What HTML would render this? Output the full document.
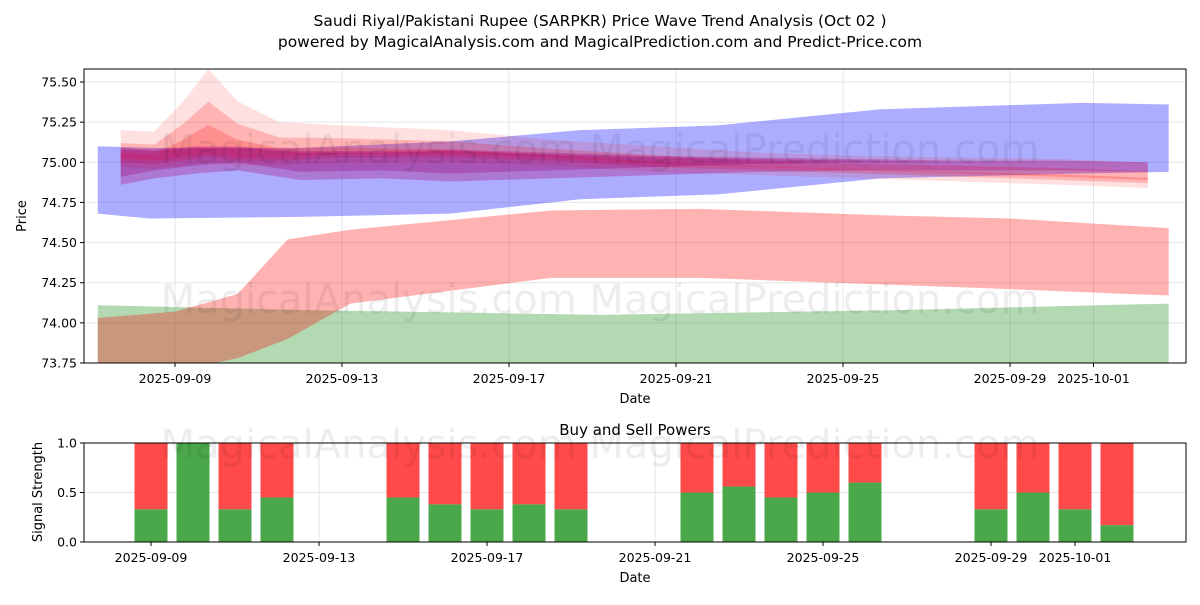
<!DOCTYPE html>
<html><head><meta charset="utf-8"><style>
body{margin:0;background:#fff;font-family:"Liberation Sans","DejaVu Sans",sans-serif}
svg text{font-family:"DejaVu Sans","Liberation Sans",sans-serif}
</style></head><body>
<svg id="c" width="1200" height="600" xmlns="http://www.w3.org/2000/svg">
<rect width="1200" height="600" fill="#fff"/>
<text x="600" y="26" font-size="15.5" text-anchor="middle">Saudi Riyal/Pakistani Rupee (SARPKR) Price Wave Trend Analysis (Oct 02 )</text>
<text x="600" y="47" font-size="15.5" text-anchor="middle">powered by MagicalAnalysis.com and MagicalPrediction.com and Predict-Price.com</text>
<g id="main"></g>
<g id="sub"></g>
</svg>
<script>
// ---- data (days measured from 2025-09-07) ----
const priceTicks=[73.75,74.00,74.25,74.50,74.75,75.00,75.25,75.50];
const dateTicks=["2025-09-09","2025-09-13","2025-09-17","2025-09-21","2025-09-25","2025-09-29","2025-10-01"];
const dateTickDays=[2,6,10,14,18,22,24];
const blueDays=[0.15,1.4,5,8.6,11.7,15,18.9,23.7,25.8];
const blueUpper=[75.10,75.09,75.09,75.13,75.20,75.23,75.33,75.37,75.36];
const blueLower=[74.68,74.65,74.66,74.68,74.77,74.80,74.90,74.93,74.94];
const redDays=[0.15,2,3.5,4.7,6.2,11,14.6,18.9,22,25.8];
const redUpper=[74.03,74.07,74.18,74.52,74.58,74.70,74.71,74.67,74.65,74.59];
const redLower=[73.60,73.70,73.78,73.90,74.12,74.28,74.28,74.24,74.21,74.17];
const greenDays=[0.15,5,12.2,19.4,25.8];
const greenUpper=[74.11,74.08,74.05,74.08,74.12];
const greenLower=[73.40,73.40,73.40,73.40,73.40];
const waveDays=[0.7,1.5,2.2,2.8,3.5,4.5,6,8.6,11,13.5,16,18.4,20.8,23.2,25.3];
const waveUpper=[75.20,75.19,75.38,75.58,75.38,75.25,75.23,75.20,75.14,75.10,75.06,75.04,75.03,75.02,75.00];
const waveLower=[74.97,74.96,74.98,75.00,74.98,74.98,75.00,75.00,74.98,74.94,74.92,74.90,74.88,74.86,74.84];
const purpDays=[0.7,1.5,2.5,3.5,5,7,8.6,11,13.5,16,18.4,20.8,23.2,25.3];
const purpUpper=[75.09,75.08,75.10,75.10,75.07,75.07,75.08,75.06,75.04,75.03,75.02,75.01,75.01,75.00];
const purpLower=[74.86,74.90,74.93,74.95,74.89,74.90,74.88,74.90,74.92,74.94,74.95,74.95,74.95,74.94];
const buyDays=[2,3,4,5,8,9,10,11,12,15,16,17,18,19,22,23,24,25];
const buyVals=[0.33,1.0,0.33,0.45,0.45,0.38,0.33,0.38,0.33,0.5,0.56,0.45,0.5,0.6,0.33,0.5,0.33,0.17];
const strengthTicks=[0.0,0.5,1.0];

const NS="http://www.w3.org/2000/svg";
function mk(t,a,p){const e=document.createElementNS(NS,t);for(const k in a)e.setAttribute(k,a[k]);p.appendChild(e);return e;}
const X0=84,X1=1186;
const xd=d=>91.5+d*41.75;
const yp=v=>363-(v-73.75)*160.57;
const ys=v=>542-v*99;
const xs=d=>151+(d-2)*42;
const M=document.getElementById('main'),S=document.getElementById('sub');

const cp=mk('clipPath',{id:'cm'},M);mk('rect',{x:X0,y:69,width:X1-X0,height:294},cp);
priceTicks.forEach(v=>{const g=mk('line',{x1:X0,x2:X1,y1:yp(v),y2:yp(v),stroke:'#e6e6e6'},M);

mk('line',{x1:X0-4,x2:X0,y1:yp(v),y2:yp(v),stroke:'#000'},M);
const t=mk('text',{x:X0-7,y:yp(v)+4.5,'font-size':12.5,'text-anchor':'end'},M);t.textContent=v.toFixed(2);
});
dateTicks.forEach((d,i)=>{const x=xd(dateTickDays[i]);mk('line',{x1:x,x2:x,y1:69,y2:363,stroke:'#e6e6e6'},M);
mk('line',{x1:x,x2:x,y1:363,y2:367,stroke:'#000'},M);
const t=mk('text',{x:x,y:383,'font-size':12.5,'text-anchor':'middle'},M);t.textContent=d;
});
const wm=(g,y,fs)=>{const t=mk('text',{x:600,y:y,'font-size':fs,'text-anchor':'middle',fill:'#000','fill-opacity':0.07},g);t.textContent='MagicalAnalysis.com    MagicalPrediction.com';
};
const band=(days,up,lo,fill,op,name)=>{let pts=days.map((d,i)=>xd(d)+','+yp(up[i]));
for(let i=days.length-1;i>=0;i--)pts.push(xd(days[i])+','+yp(lo[i]));
const p=mk('polygon',{points:pts.join(' '),fill:fill,'fill-opacity':op,'clip-path':'url(#cm)'},M);
};
band(greenDays,greenUpper,greenLower,'#008000',0.3,'green-band');
band(redDays,redUpper,redLower,'#ff0000',0.3,'red-band');
band(blueDays,blueUpper,blueLower,'#0000ff',0.32,'blue-band');
band(waveDays,waveUpper,waveLower,'#ff0000',0.12,'wave-band-outer');
band(waveDays,waveUpper.map((v,i)=>v-(v-waveLower[i])*0.35),waveLower.map(v=>v+0.03),'#ff0000',0.2,'wave-band-mid');
band(waveDays,waveUpper.map((v,i)=>v-(v-waveLower[i])*0.6),waveLower.map(v=>v+0.05),'#ff2020',0.25,'wave-band-inner');
band(purpDays,purpUpper,purpLower,'#b00070',0.3,'wave-band-purple');
band(purpDays,purpUpper.map(v=>v-0.01),purpLower.map(v=>v+0.05),'#a00070',0.3,'wave-band-core');
wm(M,163,40);wm(M,313,40);
mk('rect',{x:X0,y:69,width:X1-X0,height:294,fill:'none',stroke:'#000'},M);
let t=mk('text',{x:635,y:403,'font-size':13,'text-anchor':'middle'},M);t.textContent='Date';

t=mk('text',{x:26,y:216,'font-size':13,'text-anchor':'middle',transform:'rotate(-90 26 216)'},M);t.textContent='Price';


// sub chart
t=mk('text',{x:635,y:435,'font-size':15,'text-anchor':'middle'},S);t.textContent='Buy and Sell Powers';

strengthTicks.forEach(v=>{mk('line',{x1:X0,x2:X1,y1:ys(v),y2:ys(v),stroke:'#e6e6e6'},S);});
dateTicks.forEach((d,i)=>{const x=xs(dateTickDays[i]);mk('line',{x1:x,x2:x,y1:443,y2:542,stroke:'#e6e6e6'},S);});
buyDays.forEach((d,i)=>{const x=xs(d)-16.5;
const r=mk('rect',{x:x,y:ys(1),width:33,height:ys(buyVals[i])-ys(1),fill:'#ff4a4a'},S);

const g=mk('rect',{x:x,y:ys(buyVals[i]),width:33,height:ys(0)-ys(buyVals[i]),fill:'#4aa84a'},S);
});
wm(S,458,40);
strengthTicks.forEach(v=>{mk('line',{x1:X0-4,x2:X0,y1:ys(v),y2:ys(v),stroke:'#000'},S);
const t=mk('text',{x:X0-7,y:ys(v)+4.5,'font-size':12.5,'text-anchor':'end'},S);t.textContent=v.toFixed(1);
});
dateTicks.forEach((d,i)=>{const x=xs(dateTickDays[i]);mk('line',{x1:x,x2:x,y1:542,y2:546,stroke:'#000'},S);
const t=mk('text',{x:x,y:562,'font-size':12.5,'text-anchor':'middle'},S);t.textContent=d;
});
mk('rect',{x:X0,y:443,width:X1-X0,height:99,fill:'none',stroke:'#000'},S);
t=mk('text',{x:635,y:582,'font-size':13,'text-anchor':'middle'},S);t.textContent='Date';

t=mk('text',{x:42,y:492,'font-size':13,'text-anchor':'middle',transform:'rotate(-90 42 492)'},S);t.textContent='Signal Strength';

</script>
</body></html>
